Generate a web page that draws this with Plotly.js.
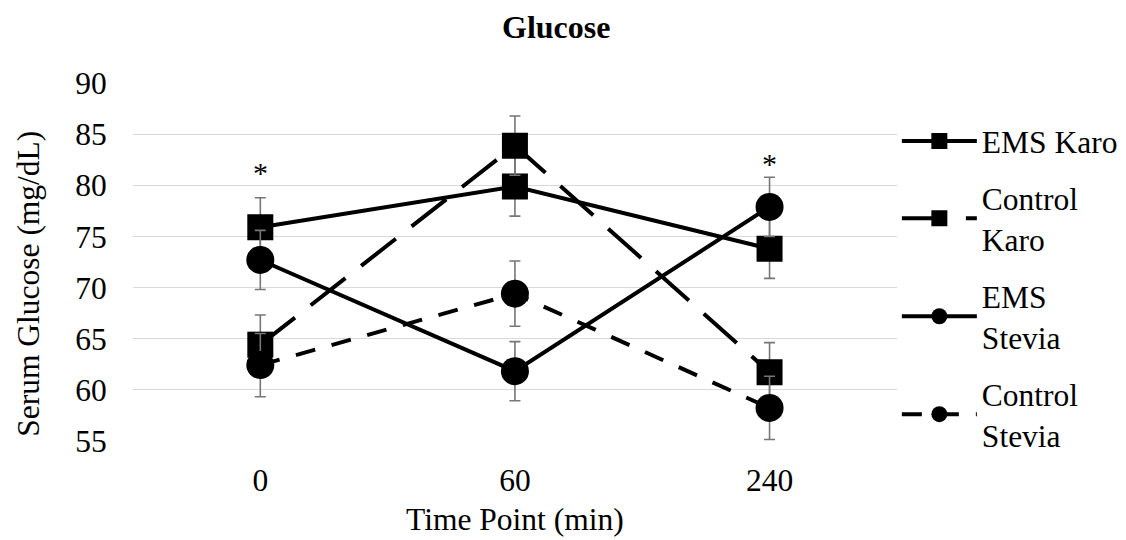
<!DOCTYPE html>
<html>
<head>
<meta charset="utf-8">
<script src="https://cdn.plot.ly/plotly-3.0.1.min.js"></script>
<style>html,body{margin:0;padding:0;background:#fff;}#chart{width:1126px;height:540px;}</style>
</head>
<body>
<div id="chart"></div>
<script>
const categories = ['0', '60', '240'];
const seriesNames = ['EMS Karo', 'Control<br>Karo', 'EMS<br>Stevia', 'Control<br>Stevia'];
const emsKaro = [75.9, 79.9, 73.8];
const emsKaroErr = [2.9, 2.9, 2.9];
const controlKaro = [64.4, 83.9, 61.7];
const controlKaroErr = [2.9, 2.9, 2.9];
const emsStevia = [72.7, 61.8, 77.9];
const emsSteviaErr = [2.9, 2.9, 2.9];
const controlStevia = [62.4, 69.4, 58.2];
const controlSteviaErr = [3.1, 3.2, 3.1];
const sigPoints = [0, 2];
const sigLabels = ['*', '*'];
const sigValues = [81.3, 82.2];
const yTitle = 'Serum Glucose (mg/dL)';

const FONT = 'Liberation Serif';
const FS = 31.5;
const errStyle = (arr) => ({type: 'data', array: arr, visible: true, color: '#767676', thickness: 1.6, width: 5.5});

const traces = [
  {name: seriesNames[0], legendgroup: 'a', x: categories, y: emsKaro, error_y: errStyle(emsKaroErr),
   mode: 'lines+markers', line: {color: '#000', width: 4},
   marker: {symbol: 'square', size: 26, color: '#000'}},
  {name: seriesNames[1], legendgroup: 'b', x: categories, y: controlKaro, error_y: errStyle(controlKaroErr),
   mode: 'lines+markers', line: {color: '#000', width: 4, dash: '44px,20px'},
   marker: {symbol: 'square', size: 26, color: '#000'}},
  {name: seriesNames[2], legendgroup: 'c', x: categories, y: emsStevia, error_y: errStyle(emsSteviaErr),
   mode: 'lines+markers', line: {color: '#000', width: 4},
   marker: {symbol: 'circle', size: 28, color: '#000'}},
  {name: seriesNames[3], legendgroup: 'd', x: categories, y: controlStevia, error_y: errStyle(controlSteviaErr),
   mode: 'lines+markers', line: {color: '#000', width: 4, dash: '20px,17px'},
   marker: {symbol: 'circle', size: 28, color: '#000'}}
];

const annotations = sigPoints.map((p, i) => ({
  x: p, y: sigValues[i], xref: 'x', yref: 'y', text: sigLabels[i], showarrow: false,
  font: {family: FONT, size: 30, color: '#000'}, yanchor: 'middle'
}));
annotations.push({
  xref: 'paper', yref: 'paper', x: -0.137, y: 0.44, xanchor: 'center', yanchor: 'middle',
  text: yTitle, textangle: -90, showarrow: false, font: {family: FONT, size: FS, color: '#000'}
});

const layout = {
  width: 1126, height: 540,
  margin: {l: 133, r: 225, t: 83, b: 99},
  paper_bgcolor: '#fff', plot_bgcolor: '#fff',
  font: {family: FONT, size: FS, color: '#000'},
  title: {text: '<b>Glucose</b>', font: {family: FONT, size: 32, color: '#000'}, x: 0.494, xanchor: 'center', y: 0.95, yanchor: 'middle'},
  xaxis: {
    type: 'category', range: [-0.5, 2.5], autorange: false, showgrid: false, zeroline: false, showline: false,
    ticks: 'outside', ticklen: 11, tickcolor: 'rgba(0,0,0,0)',
    tickfont: {family: FONT, size: FS, color: '#000'},
    title: {text: 'Time Point (min)', font: {family: FONT, size: FS, color: '#000'}, standoff: 11}
  },
  yaxis: {
    range: [54.96, 90.04], autorange: false, dtick: 5, tick0: 55, showgrid: true, gridcolor: '#d9d9d9', gridwidth: 1.5,
    zeroline: false, showline: false, automargin: false,
    ticks: 'outside', ticklen: 19, tickcolor: 'rgba(0,0,0,0)',
    tickfont: {family: FONT, size: FS, color: '#000'}
  },
  showlegend: true,
  legend: {xref: 'container', yref: 'container', x: 0.7965, xanchor: 'left', y: 0.789, yanchor: 'top',
           maxheight: 520,
           font: {family: FONT, size: FS, color: '#000'},
           itemwidth: 75, tracegroupgap: 13, bgcolor: 'rgba(0,0,0,0)'},
  annotations: annotations
};

Plotly.newPlot('chart', traces, layout, {staticPlot: true, displayModeBar: false});
</script>
</body>
</html>
